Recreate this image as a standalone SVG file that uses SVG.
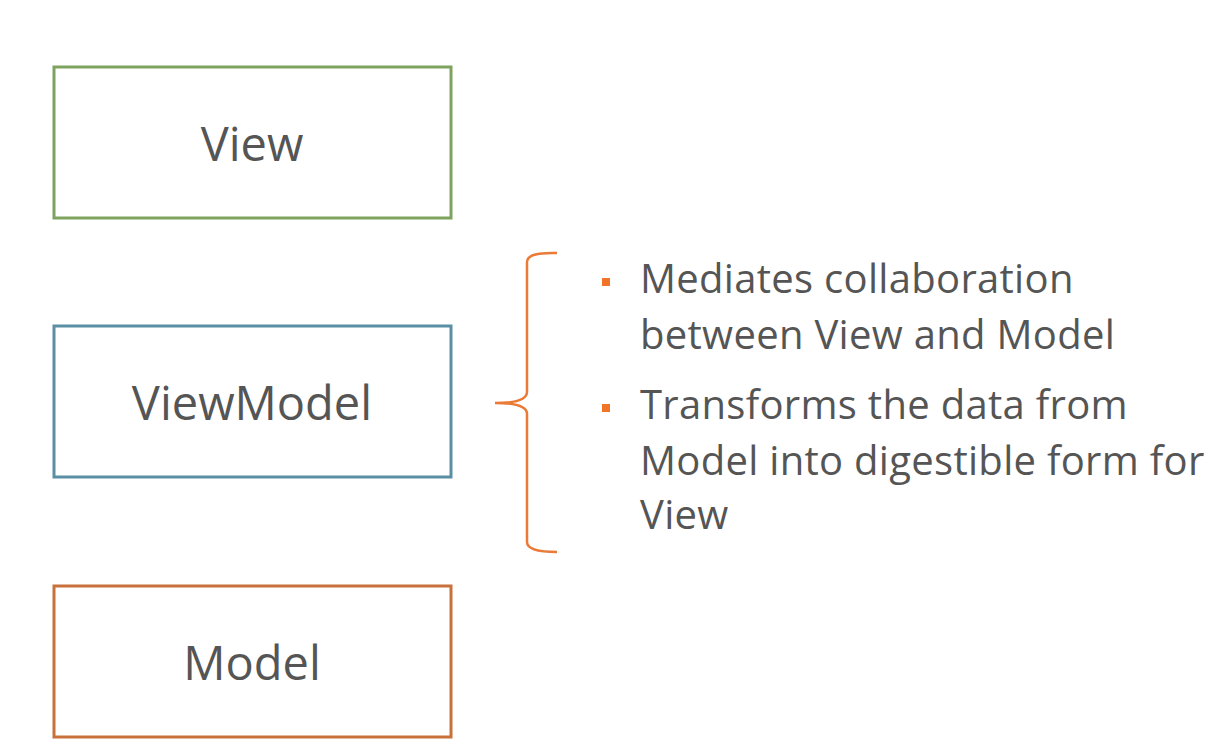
<svg xmlns="http://www.w3.org/2000/svg" width="1222" height="748" viewBox="0 0 1222 748">
<style>
.box{fill:#fff;stroke-width:3}
.lbl{font-family:"Open Sans","Noto Sans",sans-serif;font-size:47px;fill:#555;text-anchor:middle}
.txt{font-family:"Open Sans","Noto Sans",sans-serif;font-size:40px;letter-spacing:0.3px;fill:#555}
.bul{fill:#f07328}
</style>
<rect width="1222" height="748" fill="#fff"/>
<g id="view"><rect class="box" x="54" y="67" width="397" height="151" stroke="#7ea35e"/><text class="lbl" x="252" y="161">View</text></g>
<g id="viewmodel"><rect class="box" x="54" y="326" width="397" height="151" stroke="#5b8fa3"/><text class="lbl" x="252" y="420">ViewModel</text></g>
<g id="model"><rect class="box" x="54" y="586" width="397" height="151" stroke="#c8713b"/><text class="lbl" x="252" y="680">Model</text></g>
<g id="connectors">
<path d="M557,253 Q527,252 527,262 L527,392 Q527,403 495,403 Q527,403 527,414 L527,542 Q527,552 557,552" fill="none" stroke="#ea7a35" stroke-width="2.5"/>
</g>
<g id="notes">
<rect class="bul" x="602" y="278" width="8" height="8"/>
<rect class="bul" x="602" y="404" width="8" height="8"/>
<text class="txt" x="640" y="293">Mediates collaboration</text>
<text class="txt" x="640" y="349">between View and Model</text>
<text class="txt" x="640" y="419">Transforms the data from</text>
<text class="txt" x="640" y="475">Model into digestible form for</text>
<text class="txt" x="640" y="529">View</text>
</g>
</svg>
